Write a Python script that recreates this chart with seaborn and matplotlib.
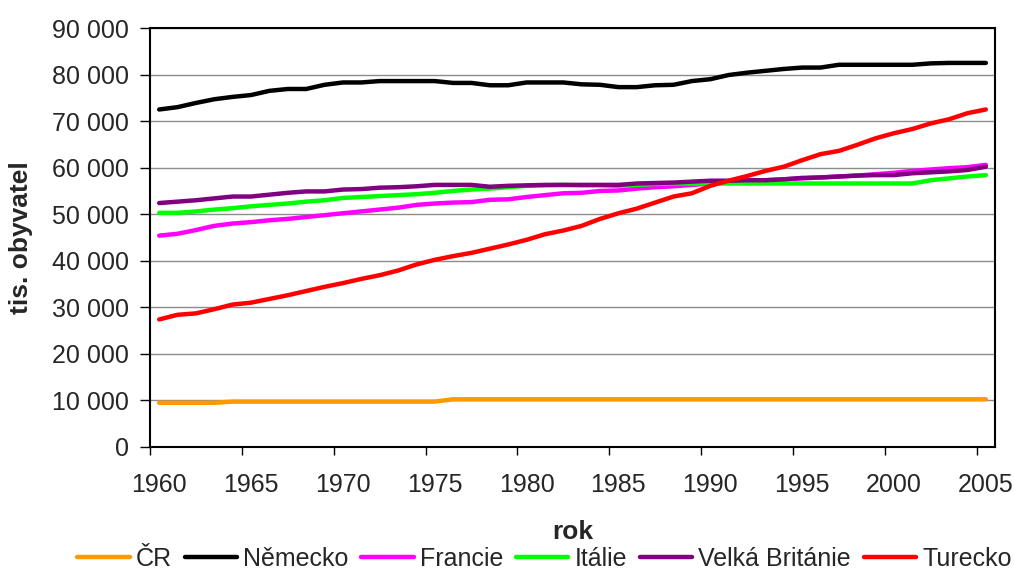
import matplotlib
matplotlib.use("Agg")
import matplotlib.pyplot as plt
import matplotlib.ticker as mticker
import seaborn as sns
import pandas as pd

years = list(range(1960, 2006))

cr = [9500, 9500, 9500, 9500, 9750, 9750, 9750, 9750, 9750, 9750,
      9750, 9750, 9750, 9750, 9750, 9750, 10250, 10250, 10250, 10250,
      10250, 10250, 10250, 10250, 10250, 10250, 10250, 10250, 10250, 10250,
      10250, 10250, 10250, 10250, 10250, 10250, 10250, 10250, 10250, 10250,
      10250, 10250, 10250, 10250, 10250, 10250]
nemecko = [72500, 73000, 73900, 74700, 75200, 75600, 76500, 76900, 76900, 77800,
           78300, 78300, 78600, 78600, 78600, 78600, 78200, 78200, 77700, 77700,
           78300, 78300, 78300, 77900, 77800, 77300, 77300, 77700, 77800, 78600,
           79000, 79900, 80400, 80800, 81200, 81500, 81500, 82100, 82100, 82100,
           82100, 82100, 82400, 82500, 82500, 82500]
francie = [45400, 45800, 46600, 47500, 48000, 48300, 48700, 49000, 49400, 49800,
           50200, 50600, 51000, 51400, 52000, 52300, 52500, 52600, 53100, 53200,
           53700, 54100, 54500, 54600, 55000, 55100, 55500, 55800, 56000, 56300,
           56600, 56900, 57100, 57300, 57500, 57700, 57900, 58100, 58300, 58600,
           58900, 59300, 59600, 59900, 60100, 60600]
italie = [50300, 50300, 50600, 51000, 51300, 51700, 52000, 52300, 52700, 53000,
          53500, 53700, 53900, 54100, 54300, 54600, 55000, 55300, 55500, 55800,
          56100, 56200, 56300, 56200, 56200, 56100, 56300, 56500, 56600, 56600,
          56600, 56600, 56600, 56600, 56600, 56600, 56600, 56600, 56600, 56600,
          56600, 56600, 57300, 57700, 58100, 58400]
velka_britanie = [52400, 52700, 53000, 53400, 53800, 53800, 54200, 54600, 54900, 54900,
                  55300, 55400, 55700, 55800, 56000, 56300, 56300, 56300, 55900, 56100,
                  56200, 56300, 56300, 56300, 56300, 56300, 56600, 56700, 56800, 57000,
                  57200, 57200, 57300, 57300, 57500, 57800, 57900, 58100, 58300, 58400,
                  58400, 58800, 59000, 59200, 59500, 60200]
turecko = [27400, 28400, 28700, 29600, 30600, 31000, 31800, 32600, 33500, 34400,
           35200, 36100, 36900, 37900, 39200, 40200, 41000, 41700, 42600, 43500,
           44500, 45700, 46500, 47500, 49000, 50200, 51200, 52500, 53800, 54500,
           56100, 57200, 58200, 59300, 60200, 61600, 62900, 63600, 64900, 66300,
           67400, 68300, 69500, 70400, 71700, 72500]

series_names = ["ČR", "Německo", "Francie", "Itálie", "Velká Británie", "Turecko"]
series_values = [cr, nemecko, francie, italie, velka_britanie, turecko]
colors = ["#FF9900", "#000000", "#FF00FF", "#00FF00", "#800080", "#FF0000"]

x_ticks = list(range(1960, 2006, 5))
y_ticks = list(range(0, 90001, 10000))

rows = []
for name, vals in zip(series_names, series_values):
    for yr, v in zip(years, vals):
        rows.append({"rok": yr, "hodnota": v, "zeme": name})
df = pd.DataFrame(rows)

sns.set_theme(style="white")
plt.rcParams["font.family"] = ["Liberation Sans", "DejaVu Sans"]

fig = plt.figure(figsize=(10.14, 5.75), dpi=100)
ax = fig.add_axes([150 / 1014, 1 - 447 / 575, 845 / 1014, 419 / 575])

sns.lineplot(data=df, x="rok", y="hodnota", hue="zeme", hue_order=series_names,
             palette=dict(zip(series_names, colors)), linewidth=3.2, ax=ax,
             legend=True)

ax.set_xlim(1959.5, 2005.5)
ax.set_ylim(0, 90000)
ax.set_yticks(y_ticks)
ax.yaxis.set_major_formatter(mticker.FuncFormatter(
    lambda v, p: f"{int(v):,}".replace(",", " ")))
ax.set_xticks(x_ticks)
ax.set_xticklabels([str(t) for t in x_ticks])
ax.set_xticks([t - 0.5 for t in x_ticks], minor=True)
ax.tick_params(axis="x", which="major", length=0, pad=19, labelsize=18)
ax.tick_params(axis="x", which="minor", length=6, width=1, direction="out",
               bottom=True, color="black")
ax.tick_params(axis="y", which="major", length=7, width=1, direction="out",
               left=True, pad=8, labelsize=18, color="black")

ax.grid(axis="y", color="#8c8c8c", linewidth=1)
ax.grid(axis="x", visible=False)
ax.set_axisbelow(True)
for sp in ax.spines.values():
    sp.set_visible(True)
    sp.set_color("black")
    sp.set_linewidth(1.5)

ax.set_xlabel("rok", fontsize=19, fontweight="bold", labelpad=16)
ax.set_ylabel("tis. obyvatel", fontsize=19, fontweight="bold", labelpad=14)

handles, labels = ax.get_legend_handles_labels()
ax.get_legend().remove()
leg = fig.legend(handles, labels, loc="center", bbox_to_anchor=(0.537, 0.028),
                 ncol=6, frameon=False, fontsize=18, handlelength=2.1,
                 handletextpad=0.25, columnspacing=0.5, borderaxespad=0,
                 borderpad=0)
for h in leg.legend_handles:
    h.set_linewidth(3.2)

fig.savefig("out.png", dpi=100)
